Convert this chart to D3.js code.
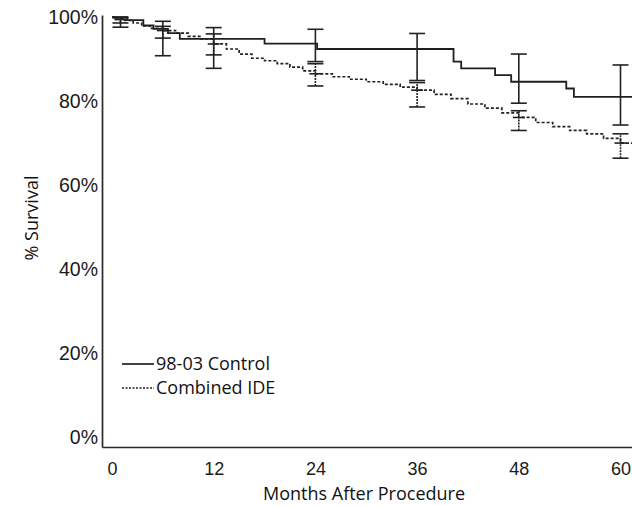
<!DOCTYPE html>
<html>
<head>
<meta charset="utf-8">
<script src="https://cdnjs.cloudflare.com/ajax/libs/d3/7.8.5/d3.min.js"></script>
<style>
    html, body { margin: 0; padding: 0; background: #fff; }
    svg { display: block; }
    .tick text { font-family: "Liberation Sans", Arial, sans-serif; fill: #1a1a1a; }
    .label { font-family: "Open Sans", sans-serif; fill: #111; }
</style>
</head>
<body>
<div id="chart"></div>
<script>
// 98-03 Control: Kaplan-Meier steps (month, % survival)
var controlMonths = [0, 1.8, 3.7, 4.9, 6.6, 8.0, 18.0, 24.2, 40.3, 41.2, 45.2, 47.1, 53.6, 54.5, 62.3];
var controlSurv = [100, 99.3, 98.0, 97.2, 96.2, 94.8, 93.7, 92.4, 89.4, 87.8, 86.2, 84.6, 83.0, 81.0, 81.0];

// Combined IDE
var ideMonths = [0, 0.5, 1.5, 2.5, 3.5, 4.5, 6, 7.5, 9, 10.5, 12, 13.5, 15, 16.5, 18, 19.5, 21, 22.5, 24,
    26, 28, 30, 32, 34, 36, 38, 40, 42, 44, 46, 48, 50, 52, 54, 56, 58, 60, 61.5, 62.3];
var ideSurv = [100, 99.6, 99.2, 98.6, 97.9, 97.3, 96.8, 96.2, 95.4, 94.8, 93.6, 92.4, 91.2, 90.2, 89.6, 88.9, 88.1, 87.2, 86.5,
    85.8, 85.2, 84.6, 84.0, 83.3, 82.6, 81.6, 80.6, 79.3, 78.3, 77.2, 76.1, 74.9, 73.9, 73.0, 72.2, 71.1, 70.0, 69.2, 69.2];

// confidence intervals
var ciMonths = [1, 6, 12, 24, 36, 48, 60];
var controlLo = [97.6, 90.8, 87.8, 89.4, 84.9, 79.5, 74.3];
var controlHi = [100, 99.0, 97.5, 97.1, 96.1, 91.2, 88.6];
var ideLo = [98.6, 95.0, 91.0, 83.6, 78.6, 73.0, 66.4];
var ideHi = [99.8, 97.8, 96.0, 88.9, 84.4, 77.7, 72.2];
var ideEst = [99.4, 96.8, 93.6, 86.5, 82.6, 76.1, 70.0];

var xTicks = [0, 12, 24, 36, 48, 60];
var yTicks = [0, 20, 40, 60, 80, 100];
var legendNames = ['98-03 Control', 'Combined IDE'];

var width = 632, height = 506;

var svg = d3.select('#chart').append('svg')
    .attr('width', width)
    .attr('height', height);

var x = d3.scaleLinear().domain([-1.18, 62.3]).range([102, 640]),
    y = d3.scaleLinear().domain([-2.38, 100.5]).range([447, 15]);

var toPoints = function (months, surv) {
    return months.map(function (m, i) { return [m, surv[i]]; });
};

var line = d3.line()
    .x(function (d) { return x(d[0]); })
    .y(function (d) { return y(d[1]); })
    .curve(d3.curveStepAfter);

// axes
var xAxis = svg.append('g')
    .attr('transform', 'translate(0,447)')
    .call(d3.axisBottom(x).tickValues(xTicks).tickSize(0).tickSizeOuter(0).tickPadding(15));
xAxis.selectAll('text').style('font-size', '18px');

var yAxis = svg.append('g')
    .attr('transform', 'translate(102,0)')
    .call(d3.axisLeft(y).tickValues(yTicks).tickSize(0).tickSizeOuter(0).tickPadding(4)
        .tickFormat(function (d) { return d + '%'; }));
yAxis.selectAll('text').style('font-size', '19.5px');

svg.selectAll('.domain').attr('stroke', '#2a2a2a').attr('stroke-width', 1.7);

// curves
svg.append('path')
    .datum(toPoints(ideMonths, ideSurv))
    .attr('d', line)
    .attr('fill', 'none')
    .attr('stroke', '#222')
    .attr('stroke-width', 1.7)
    .attr('stroke-dasharray', '3,2');

svg.append('path')
    .datum(toPoints(controlMonths, controlSurv))
    .attr('d', line)
    .attr('fill', 'none')
    .attr('stroke', '#1f1f1f')
    .attr('stroke-width', 1.8);

// error bars
var capW = 8;
var bars = svg.append('g').attr('stroke', '#222').attr('stroke-width', 1.6);

ciMonths.forEach(function (m, i) {
    var cx = x(m);
    bars.append('line')
        .attr('x1', cx).attr('x2', cx)
        .attr('y1', y(controlLo[i])).attr('y2', y(controlHi[i]));
    bars.append('line')
        .attr('x1', cx).attr('x2', cx)
        .attr('y1', y(ideLo[i])).attr('y2', y(ideHi[i]))
        .attr('stroke-dasharray', '2,1');
    [controlLo[i], controlHi[i], ideLo[i], ideHi[i]].forEach(function (v) {
        bars.append('line')
            .attr('x1', cx - capW).attr('x2', cx + capW)
            .attr('y1', y(v)).attr('y2', y(v));
    });
    bars.append('line')
        .attr('x1', cx - 6).attr('x2', cx + 6)
        .attr('y1', y(ideEst[i])).attr('y2', y(ideEst[i]));
});

// legend
var legend = svg.append('g');
legendNames.forEach(function (name, i) {
    var ly = 364 + i * 24;
    legend.append('line')
        .attr('x1', 122).attr('x2', 154)
        .attr('y1', ly).attr('y2', ly)
        .attr('stroke', '#222')
        .attr('stroke-width', i === 0 ? 1.7 : 1.5)
        .attr('stroke-dasharray', i === 0 ? null : '2,1.5');
    legend.append('text')
        .attr('class', 'label')
        .attr('x', 156)
        .attr('y', ly)
        .attr('dy', '0.35em')
        .style('font-size', '18px')
        .text(name);
});

// axis titles
svg.append('text')
    .attr('class', 'label')
    .attr('x', 364)
    .attr('y', 500)
    .attr('text-anchor', 'middle')
    .style('font-size', '18px')
    .text('Months After Procedure');

svg.append('text')
    .attr('class', 'label')
    .attr('transform', 'translate(38,218) rotate(-90)')
    .attr('text-anchor', 'middle')
    .style('font-size', '18px')
    .text('% Survival');
</script>
</body>
</html>
